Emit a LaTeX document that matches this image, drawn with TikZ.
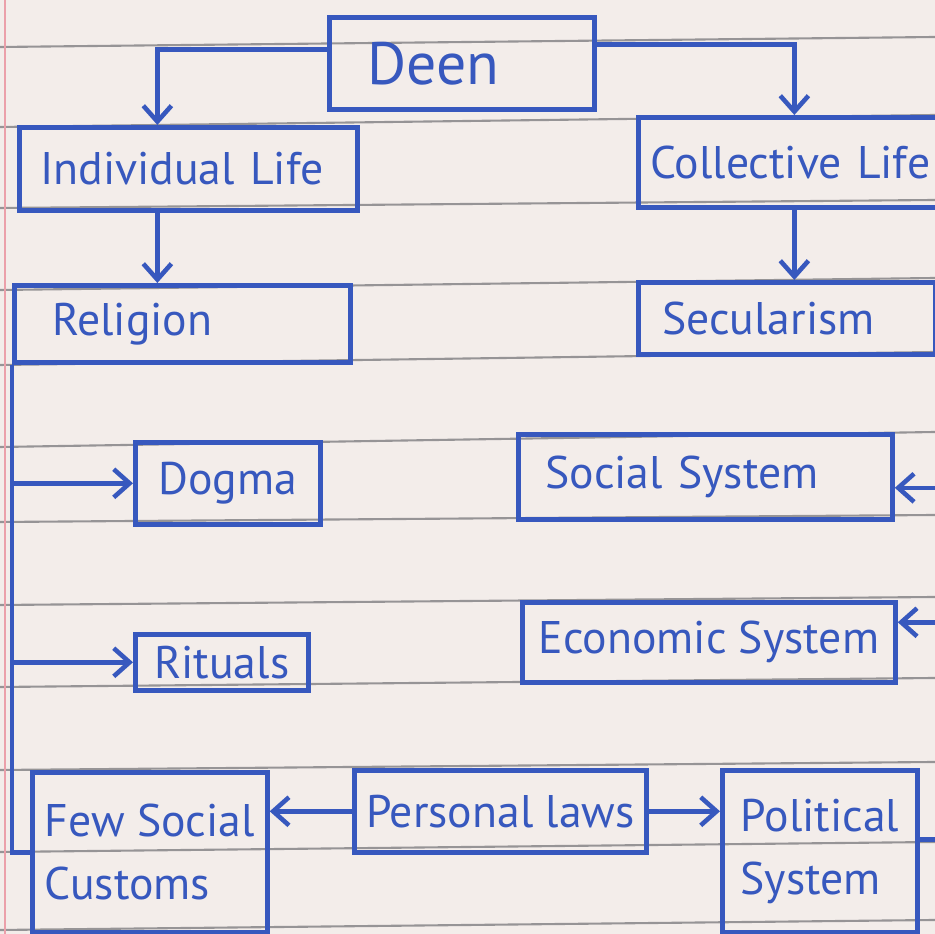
\documentclass[tikz,border=0pt]{standalone}
\usepackage{fontspec}
\setmainfont{PT Sans}
\usetikzlibrary{arrows.meta}
\definecolor{ink}{RGB}{55,88,190}
\definecolor{paper}{RGB}{243,237,234}
\definecolor{rule}{RGB}{150,148,150}
\definecolor{margin}{RGB}{235,160,170}
\tikzset{
  box/.style={draw=ink, line width=1.3pt, anchor=north west, align=left, text=ink,
    font=\fontsize{13}{18}\selectfont, inner ysep=0pt},
  link/.style={draw=ink, line width=1.3pt},
  arr/.style={link, -{Straight Barb[length=4.5pt,width=8pt]}}
}

\begin{document}
\begin{tikzpicture}[x=0.01cm, y=-0.01cm]
  \useasboundingbox (0,0) rectangle (935,934);
  \clip (0,0) rectangle (935,934);
  \fill[paper] (0,0) rectangle (935,934);
  % ruled page
  \foreach \yl/\yr in {47/37, 127/115, 208/200, 290/278, 365/352, 447/432, 522/515, 605/597, 687/678, 770/762, 852/842, 930/920}
    \draw[rule, line width=0.6pt] (0,\yl) -- (935,\yr);
  \draw[margin, line width=0.6pt] (5,0) -- (5,934);

  \node[box, minimum width=2.65cm, minimum height=0.92cm, text width=1.89cm, inner xsep=0.38cm, font=\fontsize{17}{20}\selectfont] (deen) at (327,15) {Deen};
  \node[box, minimum width=3.38cm, minimum height=0.83cm, text width=2.96cm, inner xsep=0.21cm] (indiv) at (17,125) {Individual Life};
  \node[box, minimum width=3.04cm, minimum height=0.90cm, text width=2.80cm, inner xsep=0.12cm] (coll) at (636,115) {Collective Life};
  \node[box, minimum width=3.36cm, minimum height=0.77cm, text width=2.60cm, inner xsep=0.38cm] (relig) at (12,283) {Religion};
  \node[box, minimum width=2.97cm, minimum height=0.72cm, text width=2.49cm, inner xsep=0.24cm] (secul) at (636,280) {Secularism};
  \node[box, minimum width=1.85cm, minimum height=0.82cm] (dogma) at (133,440) {Dogma};
  \node[box, minimum width=1.73cm, minimum height=0.56cm] (ritual) at (133,632) {Rituals};
  \node[box, minimum width=3.74cm, minimum height=0.85cm, text width=3.20cm, inner xsep=0.27cm] (social) at (516,432) {Social System};
  \node[box, minimum width=3.73cm, minimum height=0.80cm] (econ) at (520,600) {Economic System};
  \node[box, minimum width=2.35cm, minimum height=1.60cm] (custom) at (30,770) {Few Social\\Customs};
  \node[box, minimum width=2.81cm, minimum height=0.82cm] (perslaw) at (352,768) {Personal laws};
  \node[box, minimum width=1.95cm, minimum height=1.62cm] (polit) at (720,768) {Political\\System};

  \draw[arr] ([yshift=0.14cm]deen.west) -| ([xshift=-0.31cm]indiv.north);
  \draw[arr] ([yshift=0.19cm]deen.east) -| ([xshift=0.04cm]coll.north);
  \draw[arr] ([xshift=-0.31cm]indiv.south) -- ([xshift=-0.31cm]indiv.south |- relig.north);
  \draw[arr] ([xshift=0.04cm]coll.south) -- ([xshift=0.04cm]coll.south |- secul.north);

  % left trunk
  \draw[link] (relig.south west) |- (custom.west);
  \draw[arr] (relig.south west |- dogma.west) -- (dogma.west);
  \draw[arr] (relig.south west |- ritual.west) -- (ritual.west);

  % right trunk
  \draw[link] (secul.south east) |- ([yshift=0.12cm]polit.east);
  \draw[arr] ([yshift=-0.11cm]secul.south east |- social.east) -- ([yshift=-0.11cm]social.east);
  \draw[arr] ([yshift=0.2cm]secul.south east |- econ.east) -- ([yshift=0.2cm]econ.east);

  \draw[arr] (perslaw.west) -- (perslaw.west -| custom.east);
  \draw[arr] (perslaw.east) -- (perslaw.east -| polit.west);
\end{tikzpicture}
\end{document}
